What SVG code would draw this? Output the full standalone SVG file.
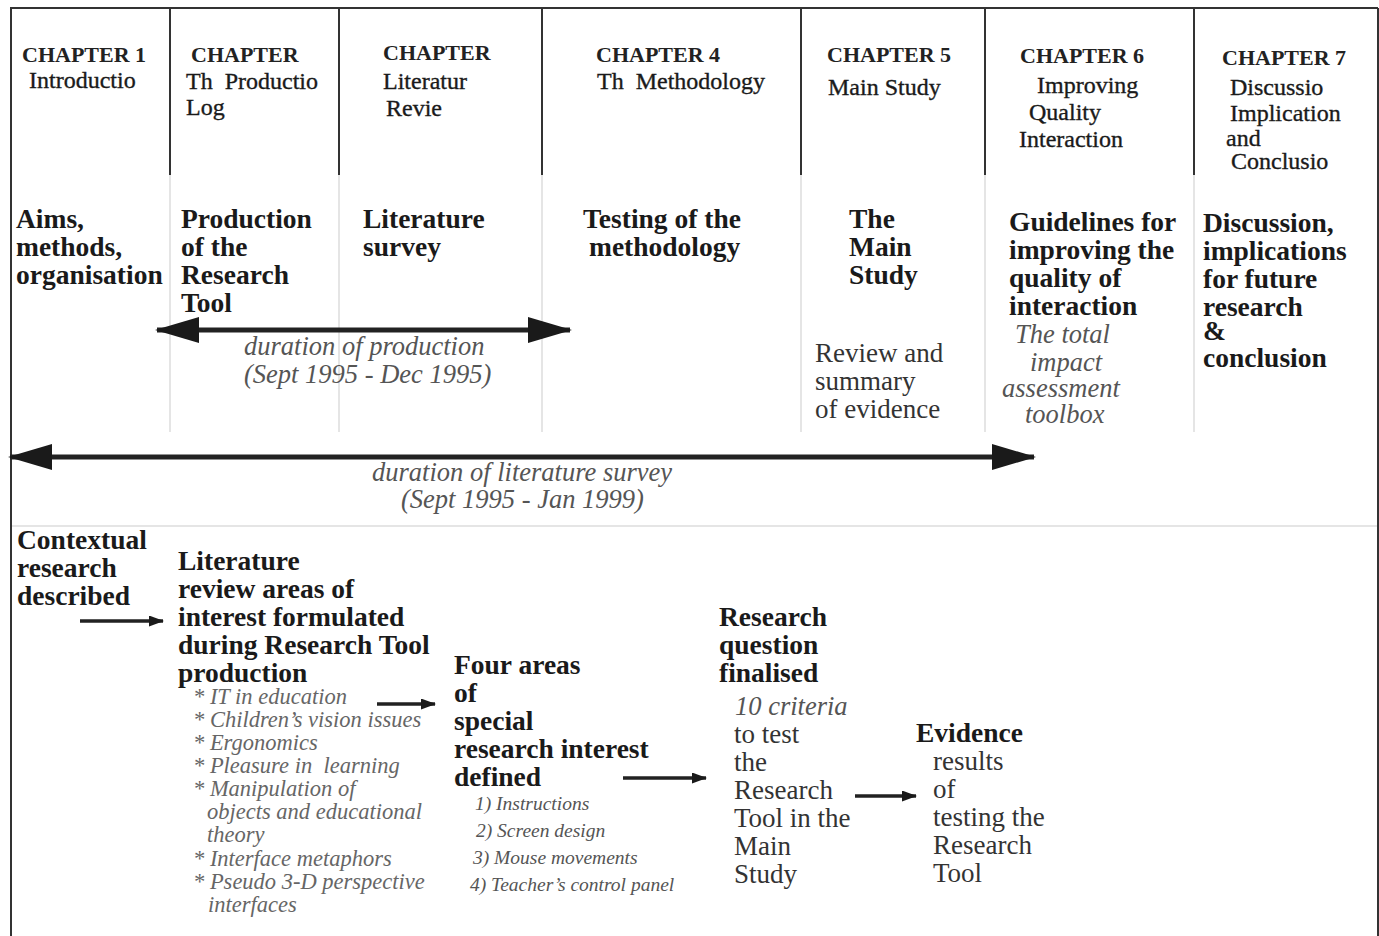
<svg xmlns="http://www.w3.org/2000/svg" width="1379" height="936" viewBox="0 0 1379 936">
<style>
text{font-family:"Liberation Serif","Times New Roman",serif;white-space:pre}
.ch{font-size:22px;font-weight:bold;fill:#222}
.sub{font-size:24px;fill:#1a1a1a;stroke:#1a1a1a;stroke-width:0.35}
.bd{font-size:27.5px;font-weight:bold;fill:#1a1a1a}
.it{font-size:26.5px;font-style:italic;fill:#555}
.rg{font-size:27px;fill:#333}
.li{font-size:22.5px;font-style:italic;fill:#666}
.nl{font-size:19.5px;font-style:italic;fill:#555}
.frame{stroke:#333;stroke-width:2;fill:none}
.faint{stroke:#ddd;stroke-width:1.5;fill:none}
.big{stroke:#222;stroke-width:5;fill:none}
.sm{stroke:#222;stroke-width:3.5;fill:none}
</style>
<defs>
<marker id="bigHead" markerUnits="userSpaceOnUse" viewBox="0 0 44 26" markerWidth="44" markerHeight="26" refX="42" refY="13" orient="auto-start-reverse"><path d="M0,0 L44,13 L0,26 Z" fill="#1a1a1a"/></marker>
<marker id="smHead" markerUnits="userSpaceOnUse" viewBox="0 0 15 11" markerWidth="15" markerHeight="11" refX="14" refY="5.5" orient="auto"><path d="M0,0 L15,5.5 L0,11 Z" fill="#1a1a1a"/></marker>
</defs>
<rect width="1379" height="936" fill="#fff"/>
<g id="frame">
<path class="frame" d="M10,8 L1378,8 M11,8 L11,936 M1378,8 L1378,936"/>
<path class="frame" d="M170,8 V175 M339,8 V175 M542,8 V175 M801,8 V175 M985,8 V175 M1194,8 V175"/>
<path class="faint" d="M170,175 V432 M339,175 V432 M542,175 V432 M801,175 V432 M985,175 V432 M1194,175 V432"/>
<path class="faint" d="M12,526 H1377"/>
</g>
<g id="ch1"><text class="ch" x="22" y="62">CHAPTER 1</text><text class="sub" x="29" y="88">Introductio</text></g>
<g id="ch2"><text class="ch" x="191" y="62">CHAPTER</text><text class="sub" x="186" y="89">Th  Productio</text><text class="sub" x="186" y="115">Log</text></g>
<g id="ch3"><text class="ch" x="383" y="60">CHAPTER</text><text class="sub" x="383" y="89">Literatur</text><text class="sub" x="386" y="116">Revie</text></g>
<g id="ch4"><text class="ch" x="596" y="62">CHAPTER 4</text><text class="sub" x="597" y="89">Th  Methodology</text></g>
<g id="ch5"><text class="ch" x="827" y="62">CHAPTER 5</text><text class="sub" x="828" y="95">Main Study</text></g>
<g id="ch6"><text class="ch" x="1020" y="63">CHAPTER 6</text><text class="sub" x="1037" y="93">Improving</text><text class="sub" x="1029" y="120">Quality</text><text class="sub" x="1019" y="147">Interaction</text></g>
<g id="ch7"><text class="ch" x="1222" y="65">CHAPTER 7</text><text class="sub" x="1230" y="95">Discussio</text><text class="sub" x="1230" y="121">Implication</text><text class="sub" x="1226" y="146">and</text><text class="sub" x="1231" y="169">Conclusio</text></g>

<g id="aims"><text class="bd" x="16" y="228">Aims,</text><text class="bd" x="16" y="256">methods,</text><text class="bd" x="16" y="284">organisation</text></g>
<g id="production"><text class="bd" x="181" y="228">Production</text><text class="bd" x="181" y="256">of the</text><text class="bd" x="181" y="284">Research</text><text class="bd" x="181" y="312">Tool</text></g>
<g id="litsurvey"><text class="bd" x="363" y="228">Literature</text><text class="bd" x="363" y="256">survey</text></g>
<g id="testing"><text class="bd" x="583" y="228">Testing of the</text><text class="bd" x="589" y="256">methodology</text></g>
<g id="mainstudy"><text class="bd" x="849" y="228">The</text><text class="bd" x="849" y="256">Main</text><text class="bd" x="849" y="284">Study</text>
<text class="rg" x="815" y="362">Review and</text><text class="rg" x="815" y="390">summary</text><text class="rg" x="815" y="418">of evidence</text></g>
<g id="guidelines"><text class="bd" x="1009" y="231">Guidelines for</text><text class="bd" x="1009" y="259">improving the</text><text class="bd" x="1009" y="287">quality of</text><text class="bd" x="1009" y="315">interaction</text>
<text class="it" x="1015" y="343">The total</text><text class="it" x="1030" y="371">impact</text><text class="it" x="1002" y="397">assessment</text><text class="it" x="1025" y="423">toolbox</text></g>
<g id="discussion"><text class="bd" x="1203" y="232">Discussion,</text><text class="bd" x="1203" y="260">implications</text><text class="bd" x="1203" y="288">for future</text><text class="bd" x="1203" y="316">research</text><text class="bd" x="1203" y="340" font-size="24">&amp;</text><text class="bd" x="1203" y="367">conclusion</text></g>

<g id="prod-duration"><text class="it" x="244" y="355">duration of production</text><text class="it" x="244" y="383">(Sept 1995 - Dec 1995)</text></g>
<g id="lit-duration"><text class="it" x="372" y="481">duration of literature survey</text><text class="it" x="401" y="508">(Sept 1995 - Jan 1999)</text></g>

<g id="contextual"><text class="bd" x="17" y="549">Contextual</text><text class="bd" x="17" y="577">research</text><text class="bd" x="17" y="605">described</text></g>
<g id="litreview"><text class="bd" x="178" y="570">Literature</text><text class="bd" x="178" y="598">review areas of</text><text class="bd" x="178" y="626">interest formulated</text><text class="bd" x="178" y="654">during Research Tool</text><text class="bd" x="178" y="682">production</text>
<text class="li" x="193" y="704">* IT in education</text><text class="li" x="193" y="727">* Children’s vision issues</text><text class="li" x="193" y="750">* Ergonomics</text><text class="li" x="193" y="773">* Pleasure in  learning</text><text class="li" x="193" y="796">* Manipulation of</text><text class="li" x="207" y="819">objects and educational</text><text class="li" x="207" y="842">theory</text><text class="li" x="193" y="866">* Interface metaphors</text><text class="li" x="193" y="889">* Pseudo 3-D perspective</text><text class="li" x="208" y="912">interfaces</text></g>
<g id="fourareas"><text class="bd" x="454" y="674">Four areas</text><text class="bd" x="454" y="702">of</text><text class="bd" x="454" y="730">special</text><text class="bd" x="454" y="758">research interest</text><text class="bd" x="454" y="786">defined</text>
<text class="nl" x="475" y="810">1) Instructions</text><text class="nl" x="476" y="837">2) Screen design</text><text class="nl" x="473" y="864">3) Mouse movements</text><text class="nl" x="470" y="891">4) Teacher’s control panel</text></g>
<g id="question"><text class="bd" x="719" y="626">Research</text><text class="bd" x="719" y="654">question</text><text class="bd" x="719" y="682">finalised</text>
<text class="it" x="735" y="715">10 criteria</text><text class="rg" x="734" y="743">to test</text><text class="rg" x="734" y="771">the</text><text class="rg" x="734" y="799">Research</text><text class="rg" x="734" y="827">Tool in the</text><text class="rg" x="734" y="855">Main</text><text class="rg" x="734" y="883">Study</text></g>
<g id="evidence"><text class="bd" x="916" y="742">Evidence</text><text class="rg" x="933" y="770">results</text><text class="rg" x="933" y="798">of</text><text class="rg" x="933" y="826">testing the</text><text class="rg" x="933" y="854">Research</text><text class="rg" x="933" y="882">Tool</text></g>

<g id="connectors">
<line class="big" x1="157" y1="330" x2="570" y2="330" marker-start="url(#bigHead)" marker-end="url(#bigHead)"/>
<line class="big" x1="10" y1="457" x2="1034" y2="457" marker-start="url(#bigHead)" marker-end="url(#bigHead)"/>
<line class="sm" x1="80" y1="621" x2="163" y2="621" marker-end="url(#smHead)"/>
<line class="sm" x1="377" y1="704" x2="435" y2="704" marker-end="url(#smHead)"/>
<line class="sm" x1="623" y1="778" x2="706" y2="778" marker-end="url(#smHead)"/>
<line class="sm" x1="855" y1="796" x2="916" y2="796" marker-end="url(#smHead)"/>
</g>
</svg>
